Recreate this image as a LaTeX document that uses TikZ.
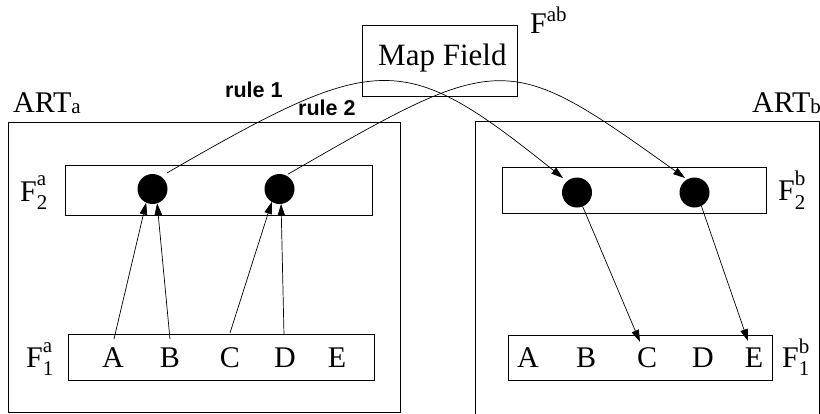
\documentclass[tikz,border=0pt]{standalone}
\usepackage{fontspec}
\setmainfont{Liberation Serif}
\newfontfamily\rulefont{Liberation Sans}
\usetikzlibrary{arrows.meta,calc}

\newcommand{\bigtxt}{\fontsize{30}{36}\selectfont}
\newcommand{\mapfont}{\fontsize{31}{36}\selectfont}
\newcommand{\smalltxt}{\fontsize{21}{24}\selectfont}
% superscript #1 raised by #3 stacked over subscript #2 lowered by #4
\newcommand{\supsub}[4]{%
  \makebox[0pt][l]{\raisebox{#3}{\smalltxt #1}}\raisebox{-#4}{\smalltxt #2}}

\begin{document}
\begin{tikzpicture}[x=1pt,y=-1pt,
  box/.style={draw, line width=0.9pt, inner sep=0pt, outer sep=0pt},
  dot/.style={circle, fill=black, minimum size=30pt, inner sep=0pt, outer sep=0pt},
  letter/.style={anchor=base, inner sep=0pt, font=\bigtxt},
  lbl/.style={anchor=base west, inner sep=0pt, font=\bigtxt},
  rulelbl/.style={anchor=base west, inner sep=0pt, font=\rulefont\bfseries\fontsize{21.5}{24}\selectfont},
  conn/.style={-{Triangle[length=12pt,width=7.5pt]}, line width=0.7pt}]

\useasboundingbox (0,0) rectangle (820,413);

% outer modules and the map field
\node[box, minimum width=392pt, minimum height=290pt] (artAbox) at (204,267) {};
\node[box, minimum width=344pt, minimum height=309pt] (artBbox) at (647,275.5) {};
\node[box, minimum width=155pt, minimum height=71pt] (mapbox) at (439.5,60.5) {};
\node[lbl, font=\mapfont] (maptext) at (378,65) {Map Field};

% layer boxes
\node[box, minimum width=307pt, minimum height=50pt] (f2a) at (218.5,190) {};
\node[box, minimum width=306pt, minimum height=46pt] (f1a) at (221,357) {};
\node[box, minimum width=264pt, minimum height=46pt] (f2b) at (634,190) {};
\node[box, minimum width=264pt, minimum height=45pt] (f1b) at (640,357.5) {};

% labels
\node[lbl] (artA) at (13,112) {ART\raisebox{-1pt}{\smalltxt a}};
\node[lbl] (artB) at (752,112) {ART\raisebox{-1pt}{\smalltxt b}};
\node[lbl] (fab) at (530,33) {F\raisebox{12pt}{\smalltxt ab}};
\node[lbl] (lf2a) at (20,201) {F\supsub{a}{2}{16pt}{8pt}};
\node[lbl] (lf1a) at (26,367) {F\supsub{a}{1}{15pt}{8pt}};
\node[lbl] (lf2b) at (778,200) {F\supsub{b}{2}{15pt}{9pt}};
\node[lbl] (lf1b) at (782,367) {F\supsub{b}{1}{14pt}{8pt}};
\node[rulelbl] (r1) at (225,97) {rule 1};
\node[rulelbl] (r2) at (298,115) {rule 2};

% F2 category nodes
\node[dot] (d1a) at (152.5,189) {};
\node[dot] (d2a) at (279.5,189) {};
\node[dot] (d1b) at (577,192.5) {};
\node[dot] (d2b) at (694.5,192.5) {};

% F1 input letters
\node[letter] (a1) at (113,367) {A};
\node[letter] (b1) at (170,367) {B};
\node[letter] (c1) at (230,367) {C};
\node[letter] (dd1) at (285,367) {D};
\node[letter] (e1) at (337,367) {E};
\node[letter] (a2) at (528,367) {A};
\node[letter] (b2) at (586,367) {B};
\node[letter] (c2) at (647,367) {C};
\node[letter] (dd2) at (703,367) {D};
\node[letter] (e2) at (754,367) {E};

% bottom-up connections in ART_a
\draw[conn] ([xshift=1pt,yshift=8pt]a1.north) -- (d1a.245);
\draw[conn] ([yshift=8pt]b1.north) -- (d1a.288);
\draw[conn] ([yshift=14pt]c1.north) -- (d2a.239);
\draw[conn] ([xshift=-1pt,yshift=12pt]dd1.north) -- (d2a.276);

% top-down connections in ART_b
\draw[conn] (d1b.292) -- ([xshift=-7pt,yshift=5pt]c2.north);
\draw[conn] (d2b.297) -- ([xshift=-6pt,yshift=6pt]e2.north);

% associative rules through the map field
\draw[conn] ($(d1a)+(48:21.6pt)$) .. controls +(213,-123) and +(-160,-128) .. ($(d1b)+(134:20pt)$);
\draw[conn] ($(d2a)+(60:17.2pt)$) .. controls +(215,-124) and +(-179,-128) .. ($(d2b)+(123:17.3pt)$);

\end{tikzpicture}
\end{document}
